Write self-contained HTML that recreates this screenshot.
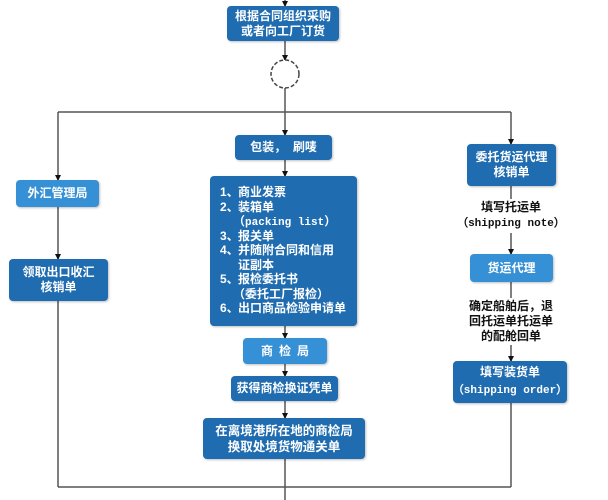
<!DOCTYPE html>
<html><head><meta charset="utf-8">
<style>
html,body{margin:0;padding:0;background:#fff;}
body{width:608px;height:500px;position:relative;overflow:hidden;font-family:"Liberation Sans","Noto Sans CJK SC",sans-serif;}
.b{position:absolute;background:#1f6cb0;border-radius:4px;color:#fff;font-weight:bold;font-size:12px;line-height:15px;display:flex;align-items:center;justify-content:center;text-align:center;box-shadow:1px 1px 2px rgba(0,0,0,0.25);}
.b > div{white-space:nowrap;}
.l{background:#3690d6;}
.t{position:absolute;color:#fff;font-weight:bold;font-size:12px;line-height:14px;white-space:nowrap;}
.m{font-family:"Liberation Mono",monospace;font-size:11px;}
.k{position:absolute;color:#111;font-weight:bold;font-size:12px;line-height:15px;text-align:center;white-space:nowrap;}
svg{position:absolute;left:0;top:0;}
</style></head><body>
<svg width="608" height="500">
<defs><marker id="a" markerWidth="6" markerHeight="6" refX="5" refY="3" orient="auto" markerUnits="userSpaceOnUse"><path d="M0,0 L6,3 L0,6 z" fill="#111"/></marker></defs>
<g stroke="#555" stroke-width="1.5" fill="none">
<line x1="285" y1="0" x2="285" y2="6" marker-end="url(#a)"/>
<line x1="285" y1="41" x2="285" y2="60" marker-end="url(#a)"/>
<line x1="285" y1="88" x2="285" y2="135" marker-end="url(#a)"/>
<line x1="58" y1="112" x2="511" y2="112"/>
<line x1="58" y1="112" x2="58" y2="180" marker-end="url(#a)"/>
<line x1="58" y1="207" x2="58" y2="259" marker-end="url(#a)"/>
<line x1="58" y1="301" x2="58" y2="487"/>
<line x1="511" y1="112" x2="511" y2="144" marker-end="url(#a)"/>
<line x1="511" y1="186" x2="511" y2="199"/>
<line x1="511" y1="233" x2="511" y2="254" marker-end="url(#a)"/>
<line x1="511" y1="282" x2="511" y2="298"/>
<line x1="511" y1="345" x2="511" y2="361" marker-end="url(#a)"/>
<line x1="511" y1="403" x2="511" y2="487"/>
<line x1="58" y1="487" x2="511" y2="487"/>
<line x1="285" y1="160" x2="285" y2="176" marker-end="url(#a)"/>
<line x1="285" y1="326" x2="285" y2="338" marker-end="url(#a)"/>
<line x1="285" y1="364" x2="285" y2="376" marker-end="url(#a)"/>
<line x1="285" y1="401" x2="285" y2="418" marker-end="url(#a)"/>
<line x1="285" y1="459" x2="285" y2="500"/>
</g>
<circle cx="285" cy="74" r="14" fill="#fff" stroke="#444" stroke-width="1.5" stroke-dasharray="4 2"/>
</svg>

<div class="b" style="left:227px;top:6px;width:112px;height:35px;"><div>根据合同组织采购<br>或者向工厂订货</div></div>
<div class="b" style="left:235px;top:135px;width:97px;height:25px;"><div>包装，&nbsp;&nbsp;刷唛</div></div>

<div class="b" style="left:210px;top:176px;width:147px;height:150px;"></div>
<div class="t" style="left:220px;top:185px;">1、</div><div class="t" style="left:238px;top:185px;">商业发票</div>
<div class="t" style="left:220px;top:199.5px;">2、</div><div class="t" style="left:238px;top:199.5px;">装箱单</div>
<div class="t" style="left:233px;top:214px;"><span>（</span><span class="m">packing list</span><span>）</span></div>
<div class="t" style="left:220px;top:228.5px;">3、</div><div class="t" style="left:238px;top:228.5px;">报关单</div>
<div class="t" style="left:220px;top:243px;">4、</div><div class="t" style="left:238px;top:243px;">并随附合同和信用</div>
<div class="t" style="left:238px;top:257.5px;">证副本</div>
<div class="t" style="left:220px;top:272px;">5、</div><div class="t" style="left:238px;top:272px;">报检委托书</div>
<div class="t" style="left:233px;top:286.5px;">（委托工厂报检）</div>
<div class="t" style="left:220px;top:301px;">6、</div><div class="t" style="left:238px;top:301px;">出口商品检验申请单</div>

<div class="b l" style="left:243px;top:338px;width:84px;height:26px;"><div style="letter-spacing:6px;margin-left:6px;">商检局</div></div>
<div class="b" style="left:231px;top:376px;width:107px;height:25px;"><div>获得商检换证凭单</div></div>
<div class="b" style="left:203px;top:418px;width:162px;height:41px;font-size:12.5px;line-height:16px;"><div>在离境港所在地的商检局<br>换取处境货物通关单</div></div>

<div class="b l" style="left:16px;top:180px;width:83px;height:27px;"><div>外汇管理局</div></div>
<div class="b" style="left:9px;top:259px;width:99px;height:42px;"><div>领取出口收汇<br>核销单</div></div>

<div class="b" style="left:467px;top:144px;width:89px;height:42px;"><div>委托货运代理<br>核销单</div></div>
<div class="k" style="left:451px;top:200px;width:120px;">填写托运单<br><span style="font-family:'Liberation Mono',monospace;font-size:11px;">（shipping note）</span></div>
<div class="b l" style="left:470px;top:254px;width:83px;height:28px;"><div>货运代理</div></div>
<div class="k" style="left:451px;top:299px;width:120px;">确定船舶后，退<br>回托运单托运单<br>的配舱回单</div>
<div class="b" style="left:453px;top:361px;width:114px;height:42px;line-height:17px;"><div>填写装货单<br><span style="font-family:'Liberation Mono',monospace;font-size:11px;">（shipping order）</span></div></div>
</body></html>
